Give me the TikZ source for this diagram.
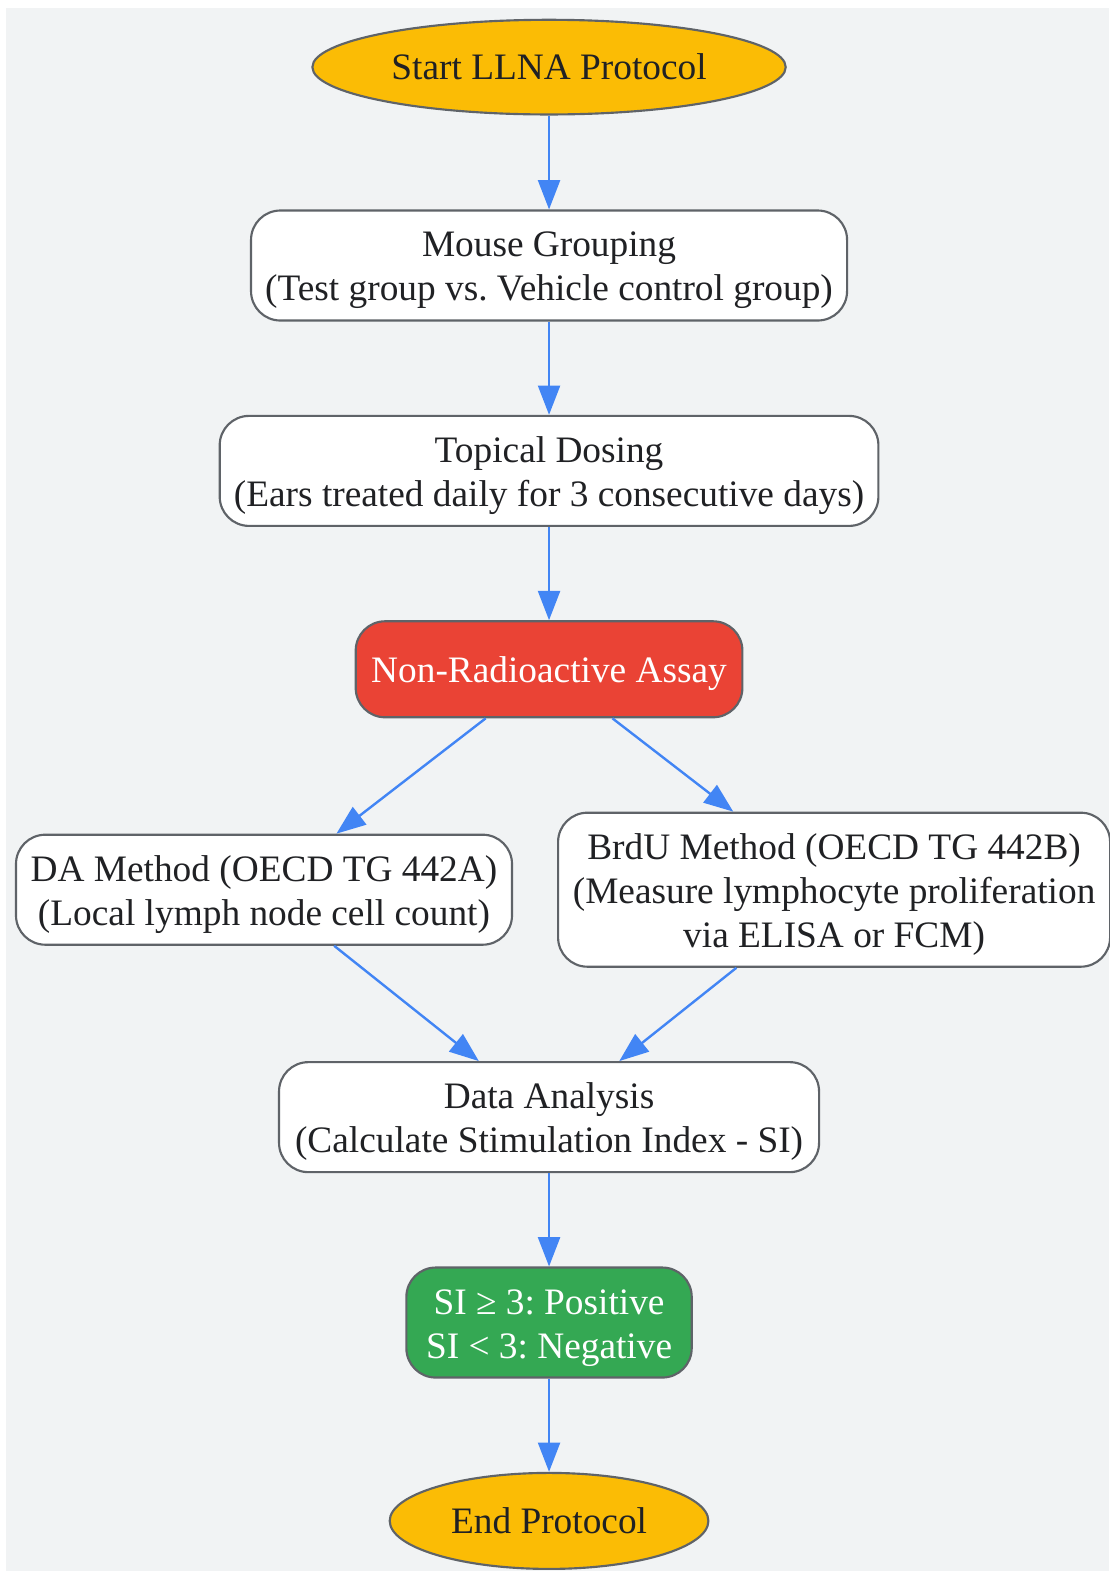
\documentclass[tikz,border=0pt]{standalone}
\usepackage{fontspec}
\setmainfont{Liberation Serif}
\usepackage{tikz}
\usetikzlibrary{shapes.geometric,arrows.meta}
\frenchspacing

\definecolor{bgcol}{HTML}{F1F3F4}
\definecolor{linecol}{HTML}{5F6368}
\definecolor{arrowcol}{HTML}{4285F4}
\definecolor{gold}{HTML}{FBBC05}
\definecolor{redbox}{HTML}{EA4335}
\definecolor{greenbox}{HTML}{34A853}
\definecolor{textcol}{HTML}{202124}

% text of a box, lowered a little
\newcommand{\lbl}[2][3.5pt]{\raisebox{-#1}[\height][\depth]{\begin{tabular}{@{}c@{}}#2\end{tabular}}}

\begin{document}
\begin{tikzpicture}[x=0.7514pt,y=-0.7514pt]
      \tikzstyle{box} = [draw=linecol,line width=1.6pt,rounded corners=22pt,fill=white,text=textcol,align=center,inner sep=0pt,font=\fontsize{28}{33}\selectfont]
      \tikzstyle{terminal} = [box,ellipse,fill=gold]
      \tikzstyle{flow} = [draw=arrowcol,line width=1.8pt,-{Triangle[length=22pt,width=16.5pt]}]

      \useasboundingbox (0,0) rectangle (1107,1568);
      \fill[bgcol] (6,8) rectangle (1107,1568);

      \node[terminal,minimum width=355pt,minimum height=71pt](start) at (548,67) {\lbl[2.8pt]{Start LLNA Protocol}};
      \node[box,minimum width=447pt,minimum height=82.5pt](group) at (548,265) {\lbl{Mouse Grouping\\(Test group vs. Vehicle control group)}};
      \node[box,minimum width=494pt,minimum height=82.5pt](dosing) at (548,470) {\lbl{Topical Dosing\\(Ears treated daily for 3 consecutive days)}};
      \node[box,fill=redbox,text=white,minimum width=290pt,minimum height=72pt](assay) at (548,668) {\lbl{Non-Radioactive Assay}};
      \node[box,minimum width=372pt,minimum height=82.5pt](da) at (263.5,888) {\lbl{DA Method (OECD TG 442A)\\(Local lymph node cell count)}};
      \node[box,minimum width=414pt,minimum height=115.5pt](brdu) at (832.5,888) {\lbl{BrdU Method (OECD TG 442B)\\(Measure lymphocyte proliferation\\via ELISA or FCM)}};
      \node[box,minimum width=405pt,minimum height=82.5pt](analysis) at (548,1115) {\lbl{Data Analysis\\(Calculate Stimulation Index - SI)}};
      \node[box,fill=greenbox,text=white,minimum width=214pt,minimum height=82.5pt](si) at (548,1320) {\lbl{SI ≥ 3: Positive\\SI < 3: Negative}};
      \node[terminal,minimum width=239pt,minimum height=72pt](end) at (548,1518) {\lbl[3.2pt]{End Protocol}};

      \draw[flow] (start) -- (group);
      \draw[flow] (group) -- (dosing);
      \draw[flow] (dosing) -- (assay);
      \draw[flow] (assay) -- (da);
      \draw[flow] (assay) -- (brdu);
      \draw[flow] (da) -- (analysis);
      \draw[flow] (brdu) -- (analysis);
      \draw[flow] (analysis) -- (si);
      \draw[flow] (si) -- (end);

    \end{tikzpicture}
\end{document}
